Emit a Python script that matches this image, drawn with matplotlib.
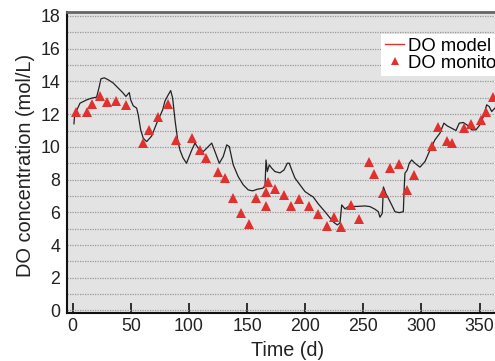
import matplotlib.pyplot as plt
from matplotlib.lines import Line2D

# DO model (simulated daily values)
model_day = [1.1, 1.7, 6.3, 12.0, 16.3, 20.6, 22.9, 24.3, 27.2, 30.6, 34.9, 39.2, 43.0, 45.8,
             48.7, 49.9, 52.1, 55.0, 56.4, 58.5, 60.7, 63.6, 68.0, 72.3, 77.4, 79.4, 82.2, 84.3,
             86.0, 88.0, 90.3, 92.3, 94.9, 97.9, 102.4, 105.2, 108.0, 112.3, 115.3, 119.6, 122.4,
             126.1, 129.5, 132.5, 134.7, 138.1, 142.4, 146.7, 151.0, 154.8, 158.8, 163.4, 165.4,
             166.3, 167.4, 169.1, 171.2, 174.0, 178.3, 181.8, 184.6, 186.3, 188.4, 191.2, 195.5,
             199.8, 204.1, 206.9, 211.3, 217.0, 221.3, 224.2, 227.6, 229.9, 231.4, 234.2, 237.1,
             244.3, 251.4, 255.7, 260.0, 262.9, 264.3, 266.3, 267.3, 269.2, 271.5, 274.4, 277.2,
             280.9, 284.4, 285.2, 285.8, 287.8, 289.5, 291.6, 294.4, 298.7, 303.0, 307.3, 311.6,
             315.9, 319.3, 322.2, 326.0, 329.7, 332.5, 336.0, 340.3, 343.2, 346.9, 350.3, 353.2,
             356.1, 358.3, 360.4, 363.2]
model_do = [11.41, 11.96, 12.67, 12.87, 12.98, 13.04, 13.69, 14.16, 14.22, 14.10, 13.90, 13.59,
            13.32, 13.08, 13.32, 12.87, 12.51, 12.37, 11.96, 11.04, 10.53, 10.32, 10.67, 11.45,
            12.26, 12.81, 13.18, 13.44, 12.98, 11.65, 10.43, 9.80, 9.33, 9.00, 9.80, 10.23, 9.92,
            9.71, 9.92, 10.23, 9.71, 9.00, 9.41, 10.12, 10.02, 8.90, 8.18, 7.68, 7.37, 7.31, 7.41,
            7.47, 7.57, 9.20, 8.49, 8.90, 8.70, 8.49, 8.41, 8.59, 9.00, 9.00, 8.59, 8.09, 7.68,
            7.27, 7.06, 6.94, 6.51, 6.04, 5.66, 5.41, 5.23, 5.35, 6.45, 6.21, 6.35, 6.36, 6.39,
            6.35, 6.19, 6.04, 5.70, 5.94, 7.55, 7.17, 6.86, 6.45, 6.04, 5.98, 6.04, 7.57, 8.39,
            8.59, 9.00, 9.20, 9.00, 8.76, 9.10, 9.80, 10.43, 10.84, 11.45, 11.28, 11.14, 11.00,
            11.45, 11.49, 11.28, 11.04, 11.04, 11.35, 11.85, 12.57, 12.46, 12.16, 12.37]

# DO monitoring
obs_day = [2.8, 12.3, 16.6, 23.5, 29.5, 37.2, 45.8, 60.5, 65.6, 73.4, 82.0, 88.9, 102.6, 109.5,
           114.7, 124.7, 131.3, 137.6, 144.8, 151.4, 157.9, 166.0, 166.3, 168.0, 174.3, 181.5,
           187.5, 194.9, 203.5, 211.0, 218.5, 225.0, 230.8, 239.4, 246.5, 255.0, 258.9, 267.2,
           272.9, 280.9, 287.8, 293.8, 308.8, 314.5, 322.2, 326.5, 336.3, 342.8, 350.9, 355.1,
           361.5]
obs_do = [12.14, 12.14, 12.63, 13.12, 12.75, 12.81, 12.57, 10.25, 11.04, 11.83, 12.63, 10.43,
          10.53, 9.80, 9.35, 8.49, 8.09, 6.86, 5.94, 5.29, 6.88, 6.39, 7.27, 7.88, 7.41, 7.05,
          6.41, 6.80, 6.39, 5.90, 5.19, 5.70, 5.09, 6.43, 5.60, 9.06, 8.37, 7.17, 8.70, 8.96,
          7.39, 8.27, 10.06, 11.24, 10.37, 10.26, 11.14, 11.38, 11.65, 12.14, 13.06]

plt.rcParams['font.family'] = ['Liberation Sans', 'DejaVu Sans']

fig = plt.figure(figsize=(4.95, 3.61), dpi=100)
ax = fig.add_axes([0.136, 0.134, 0.8916, 0.834])
ax.set_facecolor('#e3e3e3')

ax.plot(model_day, model_do, color='#222222', lw=0.9, zorder=3)
ax.plot(obs_day, obs_do, linestyle='none', marker='^', ms=7, color='#e0312f',
        markeredgewidth=0, zorder=4)

ax.set_xlim(-4.6, 375)
ax.set_ylim(-0.13, 18.27)
ax.set_xticks([0, 50, 100, 150, 200, 250, 300, 350])
ax.set_yticks(range(0, 19, 2))
ax.set_yticks(range(1, 19, 2), minor=True)
ax.grid(axis='y', which='both', linestyle=(0, (1, 1)), color='#999999', lw=0.9, zorder=1)
ax.set_axisbelow(True)

ax.tick_params(axis='x', direction='in', length=7, width=1.3, color='#222222',
               labelsize=12.8, pad=4, labelcolor='#222222')
ax.tick_params(axis='y', which='both', length=0, labelsize=12.8, pad=5, labelcolor='#222222')

for side in ['left', 'bottom']:
    ax.spines[side].set_linewidth(1.5)
    ax.spines[side].set_color('#111111')
ax.spines['top'].set_linewidth(2)
ax.spines['top'].set_color('#666666')

ax.set_xlabel('Time (d)', fontsize=14.2, color='#222222', labelpad=4.5)
ax.set_ylabel('DO concentration (mol/L)', fontsize=14.4, color='#222222')
ax.yaxis.set_label_coords(-0.073, 0.49)

handles = [Line2D([], [], color='#e0312f', lw=1),
           Line2D([], [], linestyle='none', marker='^', ms=5.5, color='#e0312f', markeredgewidth=0)]
leg = ax.legend(handles, ['DO model', 'DO monitoring'], loc='upper left',
                bbox_to_anchor=(0.711, 0.925), fontsize=13.3, frameon=True, fancybox=False,
                framealpha=1, handlelength=1.05, handletextpad=0.2, borderpad=0.2,
                labelspacing=0.0, borderaxespad=0)
leg.get_frame().set_edgecolor('white')
leg.get_frame().set_linewidth(0)

fig.savefig('out.png', dpi=100)
